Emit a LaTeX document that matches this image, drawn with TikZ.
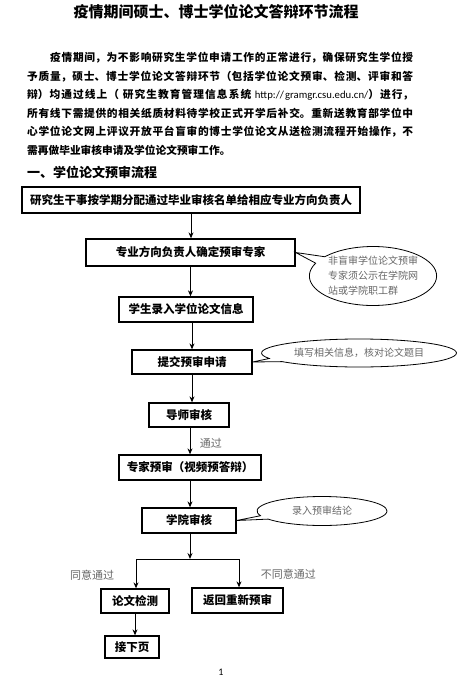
\documentclass[tikz,border=0pt]{standalone}
\usepackage{fontspec}
\setmainfont{Noto Sans CJK SC}
\newfontfamily\latinfont{Carlito}
\usepackage{xcolor}
\usepackage{tikz}
\usetikzlibrary{positioning, arrows.meta, shapes.geometric, shapes.callouts}
\XeTeXlinebreaklocale "zh"
\XeTeXlinebreakskip=0pt plus 1pt

\begin{document}
\begin{tikzpicture}[
    x=1pt, y=-1pt,
    stage/.style={rectangle, draw, line width=1.3pt, inner sep=0pt, minimum height=25pt, font=\bfseries\fontsize{11.5pt}{13pt}\selectfont},
    note/.style={ellipse callout, draw, line width=0.8pt, inner sep=0pt, text=black!60, font=\fontsize{10pt}{15pt}\selectfont},
    flow/.style={-{Stealth[length=6pt, width=5pt]}, line width=1pt},
    cond/.style={text=black!60, font=\fontsize{11pt}{13pt}\selectfont}
]
\useasboundingbox (0,0) rectangle (460,679);

\node[font=\bfseries\fontsize{15pt}{17pt}\selectfont] (title) at (216,12) {疫情期间硕士、博士学位论文答辩环节流程};

\node[anchor=north west, inner sep=0pt, text width=386pt, align=justify, font=\bfseries\fontsize{10.7pt}{18.6pt}\selectfont] (intro) at (27,52)
  {\hspace*{23pt}疫情期间，为不影响研究生学位申请工作的正常进行，确保研究生学位授\linebreak
   予质量，硕士、博士学位论文答辩环节（包括学位论文预审、检测、评审和答\linebreak
   辩）均通过线上（ 研究生教育管理信息系统 {\latinfont\mdseries http://gramgr.csu.edu.cn/}）进行，\linebreak
   所有线下需提供的相关纸质材料待学校正式开学后补交。重新送教育部学位中\linebreak
   心学位论文网上评议开放平台盲审的博士学位论文从送检测流程开始操作，不\linebreak
   需再做毕业审核申请及学位论文预审工作。};

\node[anchor=west, inner sep=0pt, font=\bfseries\fontsize{13pt}{15pt}\selectfont] (section) at (27,172) {一、学位论文预审流程};

% main flow
\node[stage, minimum width=338pt, minimum height=26pt] (assign) at (191,200) {研究生干事按学期分配通过毕业审核名单给相应专业方向负责人};
\node[stage, minimum width=209pt, minimum height=27pt] (expert) at (190.5,252.5) {专业方向负责人确定预审专家};
\node[stage, minimum width=134pt] (entry) at (186,309.5) {学生录入学位论文信息};
\node[stage, minimum width=120pt, minimum height=24pt] (submit) at (192,362) {提交预审申请};
\node[stage, minimum width=80pt, minimum height=24pt] (tutor) at (189,415) {导师审核};
\node[stage, minimum width=142pt] (review) at (190,467.5) {专家预审（视频预答辩）};
\node[stage, minimum width=94pt] (college) at (189,520.5) {学院审核};
\node[stage, minimum width=68pt, minimum height=24pt] (check) at (135,601) {论文检测};
\node[stage, minimum width=91pt] (redo) at (237.5,600.5) {返回重新预审};
\node[stage, minimum width=54pt, minimum height=22pt] (next) at (132,647) {接下页};

% remarks
\node[note, align=left, minimum width=123pt, minimum height=59pt, callout absolute pointer={(expert.east)}] (blind) at (373,276)
  {非盲审学位论文预审\\专家须公示在学院网\\站或学院职工群};
\node[note, minimum width=195pt, minimum height=28pt, callout absolute pointer={(submit.east)}] (fill) at (359,353) {填写相关信息，核对论文题目};
\node[note, minimum width=130pt, minimum height=29pt, callout absolute pointer={(college.east)}] (verdict) at (322,511) {录入预审结论};

\draw[flow] (assign.south) -- (assign.south |- expert.north);
\draw[flow] (expert.south) -- (expert.south |- entry.north);
\draw[flow] (entry.south -| submit) -- (submit.north);
\draw[flow] (submit.south) -- (submit.south |- tutor.north);
\draw[flow] (tutor.south -| review) -- (review.north) node[cond, pos=0.6, right=6pt] (pass) {通过};
\draw[flow] (review.south) -- (review.south |- college.north);

\coordinate (split) at (190,559);
\coordinate (splitL) at (136,559);
\coordinate (splitR) at (239,559);
\draw[flow] (college.south -| split) -- (split);
\draw[line width=1pt] (splitL) -- (splitR);
\draw[flow] (splitL) -- (splitL |- check.north) node[cond, pos=0.55, left=18pt] (agree) {同意通过};
\draw[flow] (splitR) -- (splitR |- redo.north) node[cond, pos=0.55, right=18pt] (reject) {不同意通过};
\draw[flow] (check.south) -- (check.south |- next.north);

\node[font=\latinfont\fontsize{10pt}{12pt}\selectfont] (page) at (221,672) {1};

\end{tikzpicture}
\end{document}
